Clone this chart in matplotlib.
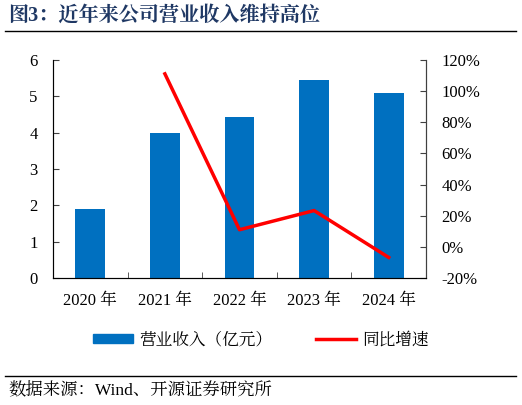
import numpy as np
import matplotlib.pyplot as plt
from matplotlib.lines import Line2D
from matplotlib.patches import Patch

plt.rcParams['font.family'] = ['Liberation Serif', 'Noto Serif CJK SC', 'Noto Sans CJK SC', 'DejaVu Sans']

years = ['2020 年', '2021 年', '2022 年', '2023 年', '2024 年']
revenue = [1.89, 3.99, 4.43, 5.46, 5.09]   # 亿元
growth = [np.nan, 111.1, 11.0, 23.3, -6.8]  # %

blue = '#0070C0'
red = '#FF0000'

fig = plt.figure(figsize=(5.22, 4.05), dpi=100)
ax = fig.add_axes([53/522, 1-278/405, (426-53)/522, (278-60)/405])
x = np.arange(len(years))
ax.bar(x, revenue, width=0.4, color=blue, zorder=2)
ax.set_xlim(-0.5, len(years)-0.5)
ax.set_ylim(0, 6)
ax.set_yticks(range(0, 7))
ax.set_xticks(x)
ax.set_xticklabels(years)
ax.set_xticks(np.arange(0.5, len(years)-1, 1), minor=True)
ax.tick_params(axis='x', which='major', length=0, pad=11, labelsize=12)
ax.tick_params(axis='x', which='minor', direction='in', length=4, color='#404040')
ax.tick_params(axis='y', direction='in', length=4, labelsize=12, color='#404040', pad=11)
ax.spines['top'].set_visible(False)
for s in ['left', 'bottom', 'right']:
    ax.spines[s].set_color('#404040')

ax2 = ax.twinx()
ax2.plot(x, growth, color=red, lw=2.5, zorder=3)
ax2.set_ylim(-20, 120)
ax2.set_yticks(range(-20, 121, 20))
ax2.set_yticklabels([f'{v}%' for v in range(-20, 121, 20)])
ax2.tick_params(axis='y', direction='in', length=4, labelsize=12, color='#404040', pad=11)
ax2.spines['top'].set_visible(False)
ax2.spines['right'].set_color('#404040')

handles = [Patch(color=blue), Line2D([], [], color=red, lw=2.5)]
labels = ['营业收入（亿元）', '同比增速']
fig.legend(handles, labels, loc='center', bbox_to_anchor=(0.5, 1-340/405), ncol=2,
           frameon=False, fontsize=12, handlelength=2.4, handleheight=0.45,
           columnspacing=2.6, handletextpad=0.4)

fig.text(8/522, 1-16/405, '图3：近年来公司营业收入维持高位', fontsize=14.5, fontweight='bold',
         color='#1F3864', va='center', ha='left')
fig.add_artist(Line2D([5/522, 516/522], [1-31/405, 1-31/405], color='black', lw=1))
fig.add_artist(Line2D([5/522, 516/522], [1-376/405, 1-376/405], color='black', lw=1))
fig.text(8/522, 1-391/405, '数据来源：Wind、开源证券研究所', fontsize=12.5, va='center', ha='left')

fig.savefig('out.png', dpi=100)
